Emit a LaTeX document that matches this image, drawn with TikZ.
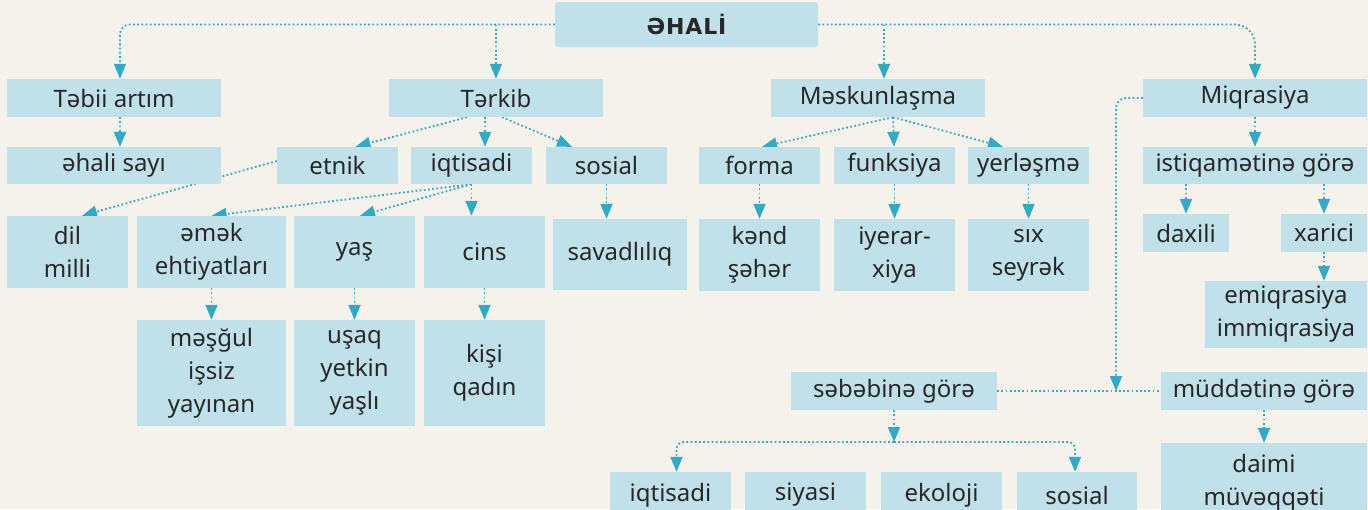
\documentclass[tikz,border=0pt]{standalone}
\usepackage{fontspec}
\setmainfont{Noto Sans}
\newfontfamily\headfont[LetterSpace=4]{DejaVu Sans}
\usetikzlibrary{arrows.meta,calc,backgrounds}
\definecolor{bg}{RGB}{245,242,236}
\definecolor{boxc}{RGB}{192,225,234}
\definecolor{linec}{RGB}{48,170,198}
\definecolor{txt}{RGB}{40,40,40}
\tikzset{
  bx/.style={fill=boxc, inner sep=0pt, text=txt, font=\fontsize{24}{33}\selectfont, align=center},
  ln/.style={draw=linec, line width=1.8pt, dash pattern=on 1.8pt off 2.4pt},
  con/.style={ln, -{Triangle[width=12pt,length=15pt,fill=linec]}},
}
\newcommand\Bx[6]{\node[bx,minimum width={(#4-#2)*1pt},minimum height={(#5-#3)*1pt}] (#1) at ({(#2+#4)/2},{(#3+#5)/2}) {#6};}
\begin{document}
\begin{tikzpicture}[x=1pt,y=-1pt]
\useasboundingbox (0,0) rectangle (1368,509);
\begin{pgfonlayer}{background}
\fill[bg] (0,0) rectangle (1368,509);
\end{pgfonlayer}
% nodes
\node[bx,rounded corners=3pt,minimum width=263pt,minimum height=45pt,font=\headfont\bfseries\fontsize{22}{28}\selectfont] (root) at (686.5,24.5) {ƏHALİ};
\Bx{tabii}{7}{79}{221}{117}{Təbii artım}
\Bx{terkib}{389}{79}{603}{117}{Tərkib}
\Bx{mesk}{771}{79}{985}{117}{Məskunlaşma}
\Bx{miq}{1143}{79}{1367}{117}{Miqrasiya}
\Bx{sayi}{7}{147}{221}{184}{əhali sayı}
\Bx{etnik}{277}{147}{398}{184}{etnik}
\Bx{iqt}{411}{147}{532}{184}{iqtisadi}
\Bx{sos}{546}{147}{667}{184}{sosial}
\Bx{forma}{699}{147}{820}{184}{forma}
\Bx{funk}{834}{147}{955}{184}{funksiya}
\Bx{yerl}{968}{147}{1089}{184}{yerləşmə}
\Bx{istiq}{1143}{147}{1367}{184}{istiqamətinə görə}
\Bx{dil}{7}{216}{128}{288}{dil\\milli}
\Bx{emek}{137}{216}{286}{288}{əmək\\ehtiyatları}
\Bx{yas}{294}{216}{415}{288}{yaş}
\Bx{cins}{424}{216}{545}{288}{cins}
\Bx{sav}{553}{219}{687}{290}{savadlılıq}
\Bx{kend}{699}{219}{820}{291}{kənd\\şəhər}
\Bx{iyer}{834}{219}{955}{291}{iyerar-\\xiya}
\Bx{six}{968}{219}{1089}{291}{sıx\\seyrək}
\Bx{daxili}{1143}{214}{1229}{252}{daxili}
\Bx{xarici}{1281}{214}{1367}{252}{xarici}
\Bx{emiq}{1205}{281}{1367}{348}{\fontsize{24}{30}\selectfont emiqrasiya\\immiqrasiya}
\Bx{mesgul}{137}{320}{286}{426}{məşğul\\işsiz\\yayınan}
\Bx{usaq}{294}{320}{415}{426}{uşaq\\yetkin\\yaşlı}
\Bx{kisi}{424}{320}{545}{426}{kişi\\qadın}
\Bx{sebeb}{791}{372}{997}{410}{səbəbinə görə}
\Bx{mudd}{1161}{372}{1367}{410}{müddətinə görə}
\Bx{daimi}{1161}{443}{1367}{523}{\fontsize{24}{30}\selectfont daimi\\müvəqqəti}
\Bx{iq2}{610}{472}{731}{518}{iqtisadi}
\Bx{siy}{745}{472}{866}{518}{siyasi}
\Bx{eko}{881}{472}{1002}{518}{ekoloji}
\Bx{so2}{1017}{472}{1137}{518}{sosial}
\coordinate (mj) at (1116,391);
\coordinate (sj) at (894,442);
\coordinate (mk) at ($(mesk.north)+(6,0)$);
\coordinate (tb) at ($(tabii.north)+(6,0)$);
% connectors
\begin{pgfonlayer}{background}
\draw[con,rounded corners=10pt] (root.west) -| (tb);
\draw[con] (root.west -| terkib.north) -- (terkib.north);
\draw[con] (mk |- root.east) -- (mk);
\draw[con,rounded corners=20pt] (root.east) -| (miq.north);
\draw[con] ($(tabii.south)+(6,0)$) -- ($(sayi.north)+(6,0)$);
% Terkib fan
\draw[con] ($(terkib.south)+(-29,0)$) -- ($(etnik.north)+(18,0)$);
\draw[con] ($(terkib.south)+(-11,0)$) -- ($(iqt.north)+(13.5,0)$);
\draw[con] ($(terkib.south)+(6,0)$) -- ($(sos.north)+(-34.5,0)$);
\draw[con] ($(etnik.west)+(0,-4.5)$) -- ($(dil.north)+(14.5,0)$);
% iqtisadi fan
\draw[con] (iqt.south) -- (emek.north);
\draw[con] (iqt.south) -- ($(yas.north)+(5.5,0)$);
\draw[con] (iqt.south) -- (iqt.south |- cins.north);
\draw[con] (sos.south) -- (sos.south |- sav.north);
% Meskunlasma fan
\draw[con] ($(mesk.south)+(15,0)$) -- ($(forma.north)+(2.5,0)$);
\draw[con] ($(mesk.south)+(15,0)$) -- ($(funk.north)+(-0.5,0)$);
\draw[con] ($(mesk.south)+(15,0)$) -- ($(yerl.north)+(-25.5,0)$);
\draw[con] (forma.south) -- (kend.north);
\draw[con] (funk.south) -- (iyer.north);
\draw[con] (yerl.south) -- (six.north);
\draw[con] (emek.south) -- (mesgul.north);
\draw[con] (yas.south) -- (usaq.north);
\draw[con] (cins.south) -- (kisi.north);
% Miqrasiya
\draw[con] (miq.south) -- (istiq.north);
\draw[con] (daxili.north |- istiq.south) -- (daxili.north);
\draw[con] (xarici.north |- istiq.south) -- (xarici.north);
\draw[con] (xarici.south) -- (xarici.south |- emiq.north);
\draw[ln] (sebeb.east) -- (mudd.west);
\draw[con,rounded corners=10pt] (miq.west) -| (mj);
\draw[con] (mudd.south) -- (mudd.south |- daimi.north);
\draw[con] (sebeb.south) -- (sj);
\draw[con,rounded corners=7pt] (sj) -| ($(iq2.north)+(6,0)$);
\draw[con,rounded corners=7pt] (sj) -| ($(so2.north)+(-2,0)$);
\end{pgfonlayer}
\end{tikzpicture}
\end{document}
